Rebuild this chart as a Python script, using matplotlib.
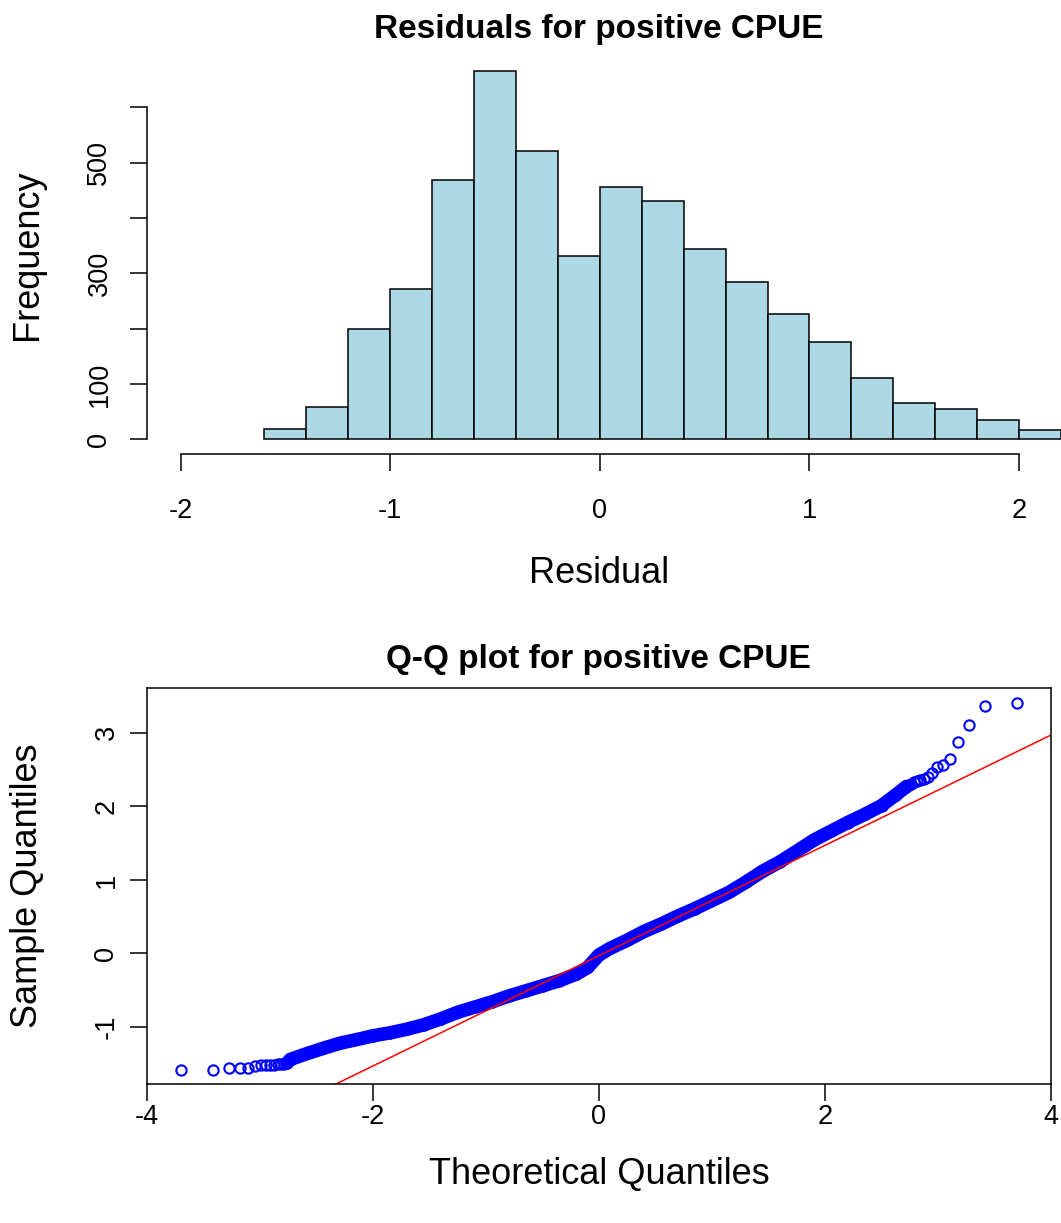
import numpy as np
import matplotlib
matplotlib.use('Agg')
import matplotlib.pyplot as plt

plt.rcParams['font.family'] = ['Liberation Sans', 'DejaVu Sans']
plt.rcParams['axes.unicode_minus'] = False

# histogram of residuals: left edge of each bin (width 0.2) and its count
bin_left = [-1.6, -1.4, -1.2, -1.0, -0.8, -0.6, -0.4, -0.2, 0.0, 0.2,
            0.4, 0.6, 0.8, 1.0, 1.2, 1.4, 1.6, 1.8, 2.0]
bin_counts = [19, 58, 200, 272, 468, 666, 521, 332, 456, 431,
              343, 285, 226, 175, 111, 66, 54, 35, 16]
bin_width = 0.2

# Q-Q points (theoretical, sample)
tail_lo_theo = [-3.70, -3.42, -3.27, -3.18, -3.105, -3.045, -2.995, -2.95,
                -2.91, -2.877, -2.845, -2.815, -2.79]
tail_lo_samp = [-1.58, -1.58, -1.56, -1.56, -1.56, -1.53, -1.52, -1.52,
                -1.52, -1.52, -1.51, -1.51, -1.50]
band_theo = [-2.76, -2.73, -2.58, -2.44, -2.29, -2.14, -2.00, -1.85, -1.70,
             -1.55, -1.40, -1.25, -1.10, -0.95, -0.80, -0.65, -0.50, -0.35,
             -0.20, -0.10, 0.0, 0.10, 0.25, 0.40, 0.55, 0.70, 0.85, 1.00,
             1.15, 1.30, 1.45, 1.60, 1.75, 1.90, 2.05, 2.20, 2.35, 2.50,
             2.63, 2.72]
band_samp = [-1.49, -1.44, -1.36, -1.29, -1.22, -1.17, -1.12, -1.08, -1.03,
             -0.97, -0.89, -0.80, -0.73, -0.66, -0.58, -0.51, -0.44, -0.37,
             -0.28, -0.19, -0.02, 0.07, 0.18, 0.30, 0.40, 0.51, 0.61, 0.72,
             0.83, 0.97, 1.12, 1.245, 1.39, 1.54, 1.66, 1.78, 1.89, 2.01,
             2.16, 2.27]
tail_hi_theo = [2.74, 2.765, 2.79, 2.815, 2.845, 2.877, 2.91, 2.95, 2.995,
                3.045, 3.105, 3.18, 3.27, 3.42, 3.70]
tail_hi_samp = [2.29, 2.31, 2.33, 2.35, 2.36, 2.37, 2.40, 2.45, 2.53,
                2.56, 2.65, 2.88, 3.10, 3.36, 3.41]

# reference line (qqline)
qq_slope = 0.75
qq_intercept = -0.03

W, H = 1061, 1223
fig = plt.figure(figsize=(W / 100, H / 100), dpi=100, facecolor='w')


def box(x0, y0, x1, y1):
    # pixel box (top-left origin) -> figure fraction rect
    return [x0 / W, 1 - y1 / H, (x1 - x0) / W, (y1 - y0) / H]


def ext(lo, hi):
    d = (hi - lo) * 0.04
    return lo - d, hi + d


tick_kw = dict(length=12.2, width=1.1, labelsize=19.5)

# ---------------- histogram ----------------
ax1 = fig.add_axes(box(147, 56, 1052.6, 454))
ax1.bar(bin_left, bin_counts, width=bin_width, align='edge', color='#ADD8E6',
        edgecolor='black', linewidth=1.1, clip_on=False)
ax1.set_xlim(*ext(-2, 2))
ax1.set_ylim(*ext(0, max(bin_counts)))
for s in ['top', 'right']:
    ax1.spines[s].set_visible(False)
ax1.spines['left'].set_bounds(0, 600)
ax1.spines['bottom'].set_bounds(-2, 2)
for s in ['left', 'bottom']:
    ax1.spines[s].set_linewidth(1.1)
ax1.set_xticks([-2, -1, 0, 1, 2])
ax1.set_xticklabels(['-2', '-1', '0', '1', '2'])
ax1.set_yticks([0, 100, 200, 300, 400, 500, 600])
ax1.set_yticklabels(['0', '100', '', '300', '', '500', ''], rotation=90, va='center')
ax1.tick_params(axis='x', pad=19.4, **tick_kw)
ax1.tick_params(axis='y', pad=12.7, **tick_kw)

fig.text(598.5 / W, 1 - 38 / H, 'Residuals for positive CPUE', ha='center',
         va='baseline', fontsize=24, fontweight='bold')
fig.text(599 / W, 1 - 583 / H, 'Residual', ha='center', va='baseline', fontsize=26)
fig.text(28 / W, 1 - 255 / H, 'Frequency', ha='center', va='center',
         rotation=90, fontsize=26)

# ---------------- Q-Q plot ----------------
ax2 = fig.add_axes(box(147, 688, 1051, 1084.3))
all_theo = tail_lo_theo + band_theo + tail_hi_theo
all_samp = tail_lo_samp + band_samp + tail_hi_samp
# the thousands of overlapping circles in the middle form a solid band
ax2.plot(band_theo, band_samp, color='blue', lw=9.8,
         solid_capstyle='round', solid_joinstyle='round')
ax2.plot(all_theo, all_samp, 'o', mfc='none', mec='blue', ms=7.4, mew=1.5)
ax2.axline((0, qq_intercept), slope=qq_slope, color='red', lw=1.1)
ax2.set_xlim(*ext(min(all_theo), max(all_theo)))
ax2.set_ylim(*ext(min(all_samp), max(all_samp)))
for s in ax2.spines.values():
    s.set_linewidth(1.1)
ax2.set_xticks([-4, -2, 0, 2, 4])
ax2.set_xticklabels(['-4', '-2', '0', '2', '4'])
ax2.set_yticks([-1, 0, 1, 2, 3])
ax2.set_yticklabels(['-1', '0', '1', '2', '3'], rotation=90, va='center')
ax2.tick_params(axis='x', pad=2, **tick_kw)
ax2.tick_params(axis='y', pad=7.6, **tick_kw)

fig.text(598.5 / W, 1 - 668 / H, 'Q-Q plot for positive CPUE', ha='center',
         va='baseline', fontsize=24, fontweight='bold')
fig.text(599 / W, 1 - 1184 / H, 'Theoretical Quantiles', ha='center',
         va='baseline', fontsize=26)
fig.text(28 / W, 1 - 886 / H, 'Sample Quantiles', ha='center', va='center',
         rotation=90, fontsize=26)

fig.savefig('out.png', dpi=100)
